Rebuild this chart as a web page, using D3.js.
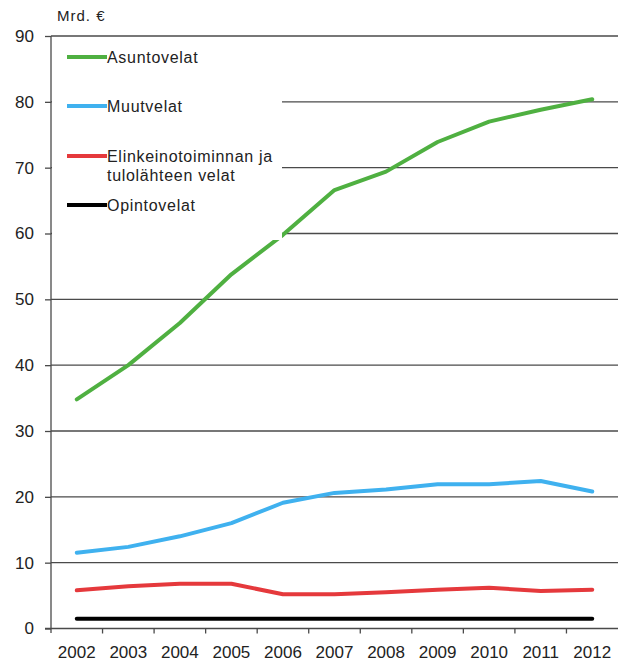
<!DOCTYPE html>
<html>
<head>
<meta charset="utf-8">
<script src="https://cdn.jsdelivr.net/npm/d3@7"></script>
<style>
  html, body { margin: 0; padding: 0; background: #fff; }
  svg { display: block; }
  text { font-family: "Liberation Sans", Arial, sans-serif; fill: #222; }
</style>
</head>
<body>
<svg id="chart" width="618" height="664"></svg>
<script>
// Kotitalouksien velat, mrd. euroa
const years = ["2002","2003","2004","2005","2006","2007","2008","2009","2010","2011","2012"];
const asuntovelat = [34.8, 40.0, 46.4, 53.8, 59.8, 66.6, 69.4, 73.9, 77.0, 78.8, 80.4];
const muutvelat = [11.5, 12.4, 14.0, 16.0, 19.1, 20.6, 21.1, 21.9, 21.9, 22.4, 20.8];
const elinkeinovelat = [5.8, 6.4, 6.8, 6.8, 5.2, 5.2, 5.5, 5.9, 6.2, 5.7, 5.9];
const opintovelat = [1.5, 1.5, 1.5, 1.5, 1.5, 1.5, 1.5, 1.5, 1.5, 1.5, 1.5];
const yTicks = [0, 10, 20, 30, 40, 50, 60, 70, 80, 90];
const seriesNames = ["Asuntovelat", "Muutvelat", "Elinkeinotoiminnan ja|tulolähteen velat", "Opintovelat"];
const seriesColors = ["#4fb041", "#3fb1ef", "#e5393c", "#000000"];

const series = [asuntovelat, muutvelat, elinkeinovelat, opintovelat];

const svg = d3.select("#chart");
const x = d3.scaleBand().domain(years).range([51, 618]);
const y = d3.scaleLinear().domain([0, 90]).range([628.5, 36]);

// gridlines
svg.append("g").selectAll("line")
  .data(yTicks.filter(d => d > 0))
  .join("line")
  .attr("x1", 51).attr("x2", 618)
  .attr("y1", d => y(d)).attr("y2", d => y(d))
  .attr("stroke", "#4a4a4a").attr("stroke-width", 1.3);

// y axis
const yAxis = svg.append("g").attr("transform", "translate(51,0)")
  .call(d3.axisLeft(y).tickValues(yTicks).tickSize(6).tickPadding(11));
yAxis.select(".domain").remove();
yAxis.append("line").attr("x1", 0).attr("x2", 0).attr("y1", y(90)).attr("y2", 633)
  .attr("stroke", "#4a4a4a").attr("stroke-width", 1.3);
yAxis.selectAll(".tick line").attr("stroke", "#4a4a4a").attr("stroke-width", 1.3);
yAxis.selectAll(".tick text")
  .style("font-family", "'Liberation Sans', Arial, sans-serif")
  .style("font-size", "17px").attr("fill", "#222");

// x axis: labels centred in each band, ticks on band boundaries
const xAxis = svg.append("g").attr("transform", `translate(0,${y(0)})`)
  .call(d3.axisBottom(x).tickSize(0).tickPadding(17));
xAxis.select(".domain").remove();
xAxis.selectAll(".tick text")
  .style("font-family", "'Liberation Sans', Arial, sans-serif")
  .style("font-size", "17px").attr("fill", "#222");
svg.append("line").attr("x1", 45).attr("x2", 618).attr("y1", y(0)).attr("y2", y(0))
  .attr("stroke", "#4a4a4a").attr("stroke-width", 1.3);
svg.append("g").selectAll("line")
  .data(years.slice(1))
  .join("line")
  .attr("x1", d => x(d)).attr("x2", d => x(d))
  .attr("y1", y(0)).attr("y2", y(0) + 5)
  .attr("stroke", "#4a4a4a").attr("stroke-width", 1.3);

// series lines
const line = d3.line()
  .x((d, i) => x(years[i]) + x.bandwidth() / 2)
  .y(d => y(d));
svg.append("g").selectAll("path")
  .data(series.slice().reverse())
  .join("path")
  .attr("d", d => line(d))
  .attr("fill", "none")
  .attr("stroke", (d, i) => seriesColors[series.length - 1 - i])
  .attr("stroke-width", 4)
  .attr("stroke-linejoin", "round")
  .attr("stroke-linecap", "round");

// legend on a white panel
svg.append("rect").attr("x", 52).attr("y", 40).attr("width", 230).attr("height", 200).attr("fill", "#fff");
const legendY = [57, 106, 156, 205];
const legend = svg.append("g").selectAll("g")
  .data(seriesNames)
  .join("g")
  .attr("transform", (d, i) => `translate(0,${legendY[i]})`);
legend.append("line")
  .attr("x1", 67).attr("x2", 107).attr("y1", 0).attr("y2", 0)
  .attr("stroke", (d, i) => seriesColors[i]).attr("stroke-width", 4);
legend.each(function(d) {
  const parts = d.split("|");
  const t = d3.select(this).append("text")
    .attr("x", 107).attr("y", 0)
    .style("font-size", "16px").style("letter-spacing", "0.7px");
  parts.forEach((p, j) => {
    t.append("tspan").attr("x", 107).attr("dy", j === 0 ? "0.35em" : "19px").text(p);
  });
});

// unit label
svg.append("text").attr("x", 57).attr("y", 21)
  .style("font-size", "15px").style("letter-spacing", "1px").text("Mrd. €");
</script>
</body>
</html>
